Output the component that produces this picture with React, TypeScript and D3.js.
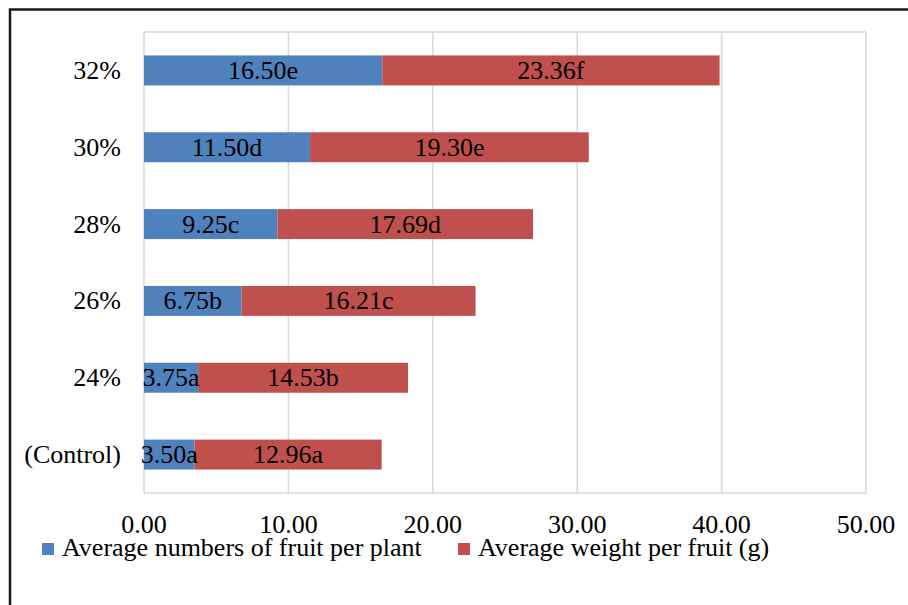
import { useEffect, useRef } from "react";
import * as d3 from "d3";

const categories = ["32%", "30%", "28%", "26%", "24%", "(Control)"];
const fruitCount = [16.5, 11.5, 9.25, 6.75, 3.75, 3.5];
const fruitCountLabels = ["16.50e", "11.50d", "9.25c", "6.75b", "3.75a", "3.50a"];
const fruitWeight = [23.36, 19.3, 17.69, 16.21, 14.53, 12.96];
const fruitWeightLabels = ["23.36f", "19.30e", "17.69d", "16.21c", "14.53b", "12.96a"];
const xTicks = [0, 10, 20, 30, 40, 50];
const seriesNames = ["Average numbers of fruit per plant", "Average weight per fruit (g)"];

const BLUE = "#4f81bd";
const RED = "#c0504d";
const FONT = "'Liberation Serif', 'Times New Roman', serif";

export default function App() {
  const svgRef = useRef<SVGSVGElement>(null);

  useEffect(() => {
    if (!svgRef.current) return;
    const width = 908;
    const height = 605;
    const left = 144;
    const right = 866;
    const top = 32;
    const bottom = 493;

    const svg = d3.select(svgRef.current);
    svg.selectAll("*").remove();
    svg.attr("width", width).attr("height", height);

    svg.append("rect").attr("width", width).attr("height", height).attr("fill", "#fff");

    // outer frame (runs off the right and bottom edges)
    svg.append("rect")
      .attr("x", 10).attr("y", 9.5)
      .attr("width", width + 20).attr("height", height + 20)
      .attr("fill", "none")
      .attr("stroke", "#1a1a1a")
      .attr("stroke-width", 2.5);

    const x = d3.scaleLinear().domain([0, 50]).range([left, right]);
    const y = d3.scaleBand().domain(categories).range([top, bottom]).paddingInner(0.61).paddingOuter(0.305);

    // gridlines
    svg.selectAll(".grid")
      .data(xTicks)
      .join("line")
      .attr("x1", (d) => x(d)).attr("x2", (d) => x(d))
      .attr("y1", top).attr("y2", bottom)
      .attr("stroke", "#d9d9d9")
      .attr("stroke-width", 1.5);

    svg.append("line")
      .attr("x1", left).attr("x2", right).attr("y1", top).attr("y2", top)
      .attr("stroke", "#d9d9d9").attr("stroke-width", 1.5);
    svg.append("line")
      .attr("x1", left).attr("x2", right).attr("y1", bottom).attr("y2", bottom)
      .attr("stroke", "#d9d9d9").attr("stroke-width", 1.5);

    const rows = categories.map((c, i) => ({
      cat: c,
      a: fruitCount[i],
      aLabel: fruitCountLabels[i],
      b: fruitWeight[i],
      bLabel: fruitWeightLabels[i],
    }));

    // blue segments
    svg.selectAll(".seg-a")
      .data(rows)
      .join("rect")
      .attr("x", x(0))
      .attr("y", (d) => y(d.cat) || 0)
      .attr("width", (d) => x(d.a) - x(0))
      .attr("height", y.bandwidth())
      .attr("fill", BLUE);

    // red segments
    svg.selectAll(".seg-b")
      .data(rows)
      .join("rect")
      .attr("x", (d) => x(d.a))
      .attr("y", (d) => y(d.cat) || 0)
      .attr("width", (d) => x(d.a + d.b) - x(d.a))
      .attr("height", y.bandwidth())
      .attr("fill", RED);

    const text = (sel: d3.Selection<any, any, any, any>) =>
      sel.attr("font-family", FONT).attr("font-size", "26px").attr("fill", "#000");

    // data labels
    svg.selectAll(".lab-a")
      .data(rows)
      .join("text")
      .attr("x", (d) => (x(0) + x(d.a)) / 2)
      .attr("y", (d) => (y(d.cat) || 0) + y.bandwidth() / 2 + 8.5)
      .attr("text-anchor", "middle")
      .call(text)
      .text((d) => d.aLabel);

    svg.selectAll(".lab-b")
      .data(rows)
      .join("text")
      .attr("x", (d) => (x(d.a) + x(d.a + d.b)) / 2)
      .attr("y", (d) => (y(d.cat) || 0) + y.bandwidth() / 2 + 8.5)
      .attr("text-anchor", "middle")
      .call(text)
      .text((d) => d.bLabel);

    // category labels
    svg.selectAll(".cat")
      .data(categories)
      .join("text")
      .attr("x", 121)
      .attr("y", (d) => (y(d) || 0) + y.bandwidth() / 2 + 8.5)
      .attr("text-anchor", "end")
      .call(text)
      .text((d) => d);

    // x tick labels
    svg.selectAll(".tick")
      .data(xTicks)
      .join("text")
      .attr("x", (d) => x(d))
      .attr("y", 533)
      .attr("text-anchor", "middle")
      .call(text)
      .text((d) => d.toFixed(2));

    // legend
    const legend = [
      { name: seriesNames[0], color: BLUE, x: 42 },
      { name: seriesNames[1], color: RED, x: 458 },
    ];
    const lg = svg.selectAll(".legend").data(legend).join("g");
    lg.append("rect")
      .attr("x", (d) => d.x).attr("y", 543)
      .attr("width", 12).attr("height", 12)
      .attr("fill", (d) => d.color);
    lg.append("text")
      .attr("x", (d) => d.x + 20)
      .attr("y", 556)
      .call(text)
      .text((d) => d.name);
  }, []);

  return <svg ref={svgRef} style={{ position: "absolute", left: 0, top: 0, display: "block" }} />;
}
